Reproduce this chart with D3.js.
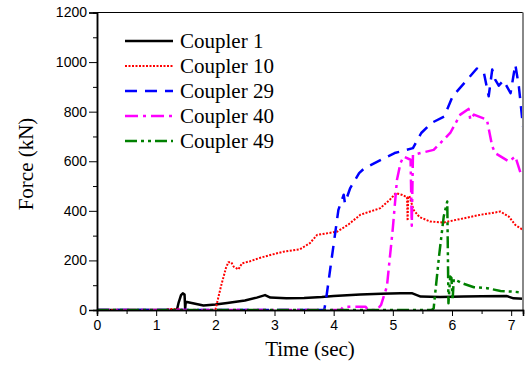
<!DOCTYPE html>
<html><head><meta charset="utf-8">
<script src="https://cdn.jsdelivr.net/npm/d3@7"></script>
<style>body{margin:0;background:#fff}svg{display:block}</style>
</head><body><svg id="c" width="528" height="366"></svg>
<script>
const seriesNames = ["Coupler 1","Coupler 10","Coupler 29","Coupler 40","Coupler 49"];
const xTicks = [0,1,2,3,4,5,6,7];
const yTicks = [0,200,400,600,800,1000,1200];

const coupler1 = [[0,0],[1.35,0],[1.38,30],[1.42,60],[1.45,67],[1.48,62],[1.49,5],[1.50,33],[1.6,28],[1.8,18],[2.0,22],[2.2,28],[2.5,38],[2.7,50],[2.84,60],[2.93,50],[3.2,47],[3.5,48],[3.8,52],[4.0,56],[4.45,63],[4.8,66],[5.13,68],[5.32,68],[5.47,54],[5.8,52],[6.2,54],[6.5,55],[6.93,56],[7.04,47],[7.2,45]];
const coupler10 = [[0,0],[1.15,0],[1.2,4],[1.4,4],[1.45,0],[2.0,0],[2.02,20],[2.1,100],[2.18,170],[2.22,193],[2.27,192],[2.31,175],[2.39,164],[2.45,188],[2.59,197],[2.75,210],[2.93,222],[3.15,235],[3.43,245],[3.6,270],[3.72,303],[4.06,316],[4.25,345],[4.45,384],[4.79,411],[4.95,445],[5.05,471],[5.15,465],[5.24,455],[5.25,360],[5.26,455],[5.28,460],[5.35,404],[5.45,375],[5.63,357],[5.86,353],[6.2,370],[6.48,384],[6.82,397],[6.96,377],[7.07,343],[7.2,323]];
const coupler29 = [[0,0],[3.84,0],[3.87,40],[3.94,162],[4.08,404],[4.17,465],[4.19,431],[4.28,492],[4.43,552],[4.52,572],[4.80,606],[5.03,633],[5.34,653],[5.48,714],[5.65,754],[5.87,781],[6.01,862],[6.21,916],[6.42,974],[6.54,956],[6.62,862],[6.68,970],[6.73,929],[6.79,905],[6.87,926],[6.99,875],[7.07,990],[7.13,902],[7.2,740]];
const coupler40 = [[0,0],[4.12,0],[4.16,13],[4.54,13],[4.58,0],[4.73,0],[4.80,20],[4.90,95],[5.0,330],[5.07,525],[5.13,593],[5.18,619],[5.30,606],[5.32,340],[5.34,626],[5.35,626],[5.69,646],[5.97,714],[6.14,788],[6.28,811],[6.31,768],[6.37,788],[6.59,768],[6.68,660],[6.73,633],[6.96,599],[7.07,619],[7.16,552],[7.2,550]];
const coupler49 = [[0,0],[5.66,0],[5.69,7],[5.78,215],[5.86,377],[5.92,438],[5.94,27],[5.97,135],[5.99,130],[6.01,40],[6.03,125],[6.09,118],[6.17,108],[6.37,92],[6.59,88],[6.82,77],[7.04,74],[7.2,70]];

const seriesData = [coupler1,coupler10,coupler29,coupler40,coupler49];
const colors = ["#000000","#ff0000","#0000ff","#ff00ff","#008000"];
const dashes = [null,"2,1.5","12,8","13,5,3,5","12,4,3,4,3,4"];
const widths = [2.5,2,2.5,2.5,2.5];

const L=97, R=523, T=12.5, B=310;
const svg = d3.select("#c");
const x = d3.scaleLinear().domain([0,7.2]).range([L,R]);
const y = d3.scaleLinear().domain([0,1200]).range([B,T]);

const clip = svg.append("clipPath").attr("id","pc").append("rect")
  .attr("x",L).attr("y",T-2).attr("width",R-L).attr("height",B-T+2);

const line = d3.line().x(d=>x(d[0])).y(d=>y(d[1]));
const g = svg.append("g").attr("clip-path","url(#pc)");
seriesData.forEach((s,i)=>{
  g.append("path").datum(s).attr("d",line).attr("fill","none")
   .attr("stroke",colors[i]).attr("stroke-width",widths[i])
   .attr("stroke-dasharray",dashes[i]).attr("stroke-linejoin","round");
});

// frame
svg.append("line").attr("x1",L).attr("x2",R).attr("y1",T).attr("y2",T).attr("stroke","#000").attr("stroke-width",1);
svg.append("line").attr("x1",R).attr("x2",R).attr("y1",T).attr("y2",B).attr("stroke","#888").attr("stroke-width",2);

// axes
const xAxis = svg.append("g").attr("transform",`translate(0,${B})`)
  .call(d3.axisBottom(x).tickValues(xTicks).tickSize(6).tickPadding(4).tickFormat(d3.format("d")));
const xMinor = svg.append("g").attr("transform",`translate(0,${B})`)
  .call(d3.axisBottom(x).tickValues(d3.range(0.5,7.2,1)).tickSize(4).tickFormat(""));
const yAxis = svg.append("g").attr("transform",`translate(${L},0)`)
  .call(d3.axisLeft(y).tickValues(yTicks).tickSize(8).tickPadding(2).tickFormat(d3.format("d")));
const yMinor = svg.append("g").attr("transform",`translate(${L},0)`)
  .call(d3.axisLeft(y).tickValues(d3.range(100,1200,200)).tickSize(4).tickFormat(""));
[xAxis,xMinor,yAxis,yMinor].forEach(a=>{
  a.selectAll(".domain").attr("stroke","#000").attr("stroke-width",1.5);
  a.selectAll(".tick line").attr("stroke","#000").attr("stroke-width",1);
  a.selectAll("text").attr("font-family","'Liberation Sans', Arial, sans-serif").attr("font-size",14).attr("fill","#000");
});

// titles
svg.append("text").attr("x",310).attr("y",356).attr("text-anchor","middle")
  .attr("font-family","'Liberation Serif','Times New Roman',serif").attr("font-size",21).text("Time (sec)");
svg.append("text").attr("transform","translate(33,164) rotate(-90)").attr("text-anchor","middle")
  .attr("font-family","'Liberation Serif','Times New Roman',serif").attr("font-size",21).text("Force (kN)");

// legend
const lg = svg.append("g");
seriesNames.forEach((n,i)=>{
  const yy = 41 + i*25;
  lg.append("line").attr("x1",125).attr("x2",173).attr("y1",yy).attr("y2",yy)
    .attr("stroke",colors[i]).attr("stroke-width",widths[i]).attr("stroke-dasharray",dashes[i]);
  lg.append("text").attr("x",180).attr("y",yy+7)
    .attr("font-family","'Liberation Serif','Times New Roman',serif").attr("font-size",21).text(n);
});
</script></body></html>
